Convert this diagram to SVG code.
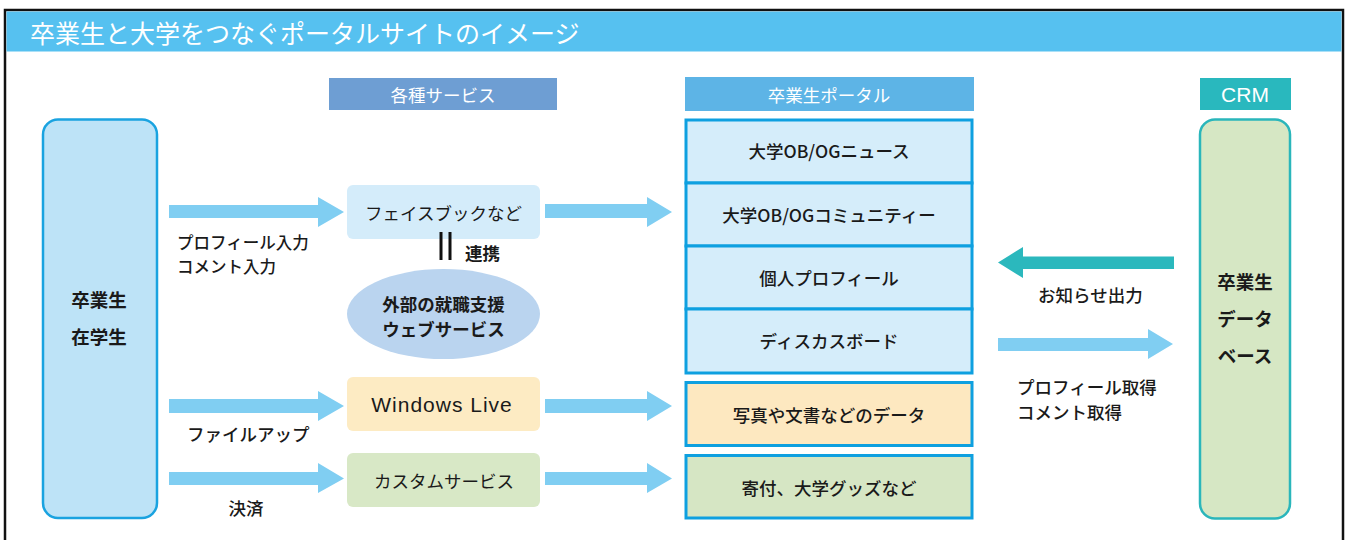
<svg xmlns="http://www.w3.org/2000/svg" width="1351" height="540" viewBox="0 0 1351 540">
<defs>
<style>
.t{font-family:"Noto Sans CJK JP","Noto Sans",sans-serif;font-size:17.5px;fill:#1a1a1a;font-weight:500}
.c{text-anchor:middle;dominant-baseline:central}
.m{dominant-baseline:central}
.s{font-size:16.5px}
.w{fill:#ffffff;font-weight:400}
.b{font-weight:700}
.lat{font-family:"Liberation Sans","Noto Sans CJK JP",sans-serif}
.arr{fill:#80CEF2}
.cell{fill:#D5EDFA;stroke:#0EA0E0;stroke-width:3}
</style>
</defs>
<rect x="0" y="0" width="1351" height="540" fill="#ffffff"/>
<rect x="5" y="10" width="1338" height="560" fill="none" stroke="#111" stroke-width="2.5"/>
<g id="title">
<rect x="6.5" y="11.5" width="1335" height="40" fill="#56C1F0"/>
<text class="t w m" x="30" y="32" style="font-size:25px">卒業生と大学をつなぐポータルサイトのイメージ</text>
</g>
<g id="hdr-services">
<rect x="329" y="78" width="228" height="32" fill="#6E9ED3"/>
<text class="t c w" x="443" y="94">各種サービス</text>
</g>
<g id="hdr-portal">
<rect x="685" y="77" width="289" height="34" fill="#5DB4E6"/>
<text class="t c w" x="829" y="94">卒業生ポータル</text>
</g>
<g id="hdr-crm">
<rect x="1200" y="78" width="91" height="32" fill="#29B8BE"/>
<text class="t c w lat" x="1245" y="94" style="font-size:21px">CRM</text>
</g>
<g id="students">
<rect x="43" y="119.5" width="114" height="398.5" rx="15" fill="#BDE3F7" stroke="#1AA3E0" stroke-width="2.5"/>
<text class="t c b" x="99" y="299" style="font-size:18.5px">卒業生</text>
<text class="t c b" x="99" y="336" style="font-size:18.5px">在学生</text>
</g>
<g id="facebook">
<rect x="347" y="185" width="193" height="54" rx="6" fill="#D4ECFA"/>
<text class="t c" x="443.5" y="212" style="font-weight:400">フェイスブックなど</text>
</g>
<g id="external">
<ellipse cx="443.5" cy="314" rx="96.5" ry="45" fill="#BAD4EF"/>
<text class="t c b" x="443.5" y="303" style="font-size:17.5px">外部の就職支援</text>
<text class="t c b" x="443.5" y="328.5" style="font-size:17.5px">ウェブサービス</text>
</g>
<g id="windowslive">
<rect x="347" y="377" width="193" height="54" rx="6" fill="#FDEBC3"/>
<text class="t c lat" x="442" y="404" style="font-size:21px;font-weight:400;letter-spacing:1px">Windows Live</text>
</g>
<g id="custom">
<rect x="347" y="453" width="193" height="54" rx="6" fill="#D8E8C6"/>
<text class="t c" x="444" y="480" style="font-weight:400">カスタムサービス</text>
</g>
<g id="portal">
<rect class="cell" x="686" y="120" width="286" height="63"/>
<rect class="cell" x="686" y="183" width="286" height="63"/>
<rect class="cell" x="686" y="246" width="286" height="63"/>
<rect class="cell" x="686" y="309" width="286" height="64"/>
<text class="t c" x="829" y="150">大学OB/OGニュース</text>
<text class="t c" x="829" y="214">大学OB/OGコミュニティー</text>
<text class="t c" x="829" y="277">個人プロフィール</text>
<text class="t c" x="829" y="340">ディスカスボード</text>
</g>
<g id="data">
<rect x="686" y="382.5" width="286" height="63" fill="#FDE8C0" stroke="#0EA0E0" stroke-width="3"/>
<text class="t c" x="829" y="414">写真や文書などのデータ</text>
</g>
<g id="goods">
<rect x="686" y="455.5" width="286" height="62.5" fill="#D6E6C4" stroke="#0EA0E0" stroke-width="3"/>
<text class="t c" x="829" y="487">寄付、大学グッズなど</text>
</g>
<g id="crm">
<rect x="1200" y="119.5" width="90" height="399" rx="15" fill="#D6E7C4" stroke="#2AB6BB" stroke-width="2.5"/>
<text class="t c b" x="1245" y="281" style="font-size:18.5px">卒業生</text>
<text class="t c b" x="1245" y="318" style="font-size:18.5px">データ</text>
<text class="t c b" x="1245" y="355" style="font-size:18.5px">ベース</text>
</g>
<g id="connectors">
<polygon class="arr" points="169,205 318,205 318,197 344,212 318,227 318,218 169,218"/>
<polygon class="arr" points="169,399 318,399 318,391 344,406 318,421 318,413 169,413"/>
<polygon class="arr" points="169,472 318,472 318,463 344,478.5 318,493 318,485 169,485"/>
<polygon class="arr" points="545,204 647,204 647,197 672,212 647,227 647,218 545,218"/>
<polygon class="arr" points="545,399 647,399 647,391 672,406 647,421 647,413 545,413"/>
<polygon class="arr" points="545,472 647,472 647,463 672,478.5 647,493 647,485 545,485"/>
<polygon fill="#2BB8BD" points="1174,256.5 1023,256.5 1023,247 998,262.5 1023,278 1023,269 1174,269"/>
<polygon class="arr" points="998,338 1148,338 1148,329 1173,344 1148,359 1148,351 998,351"/>
<rect x="439.5" y="232" width="3" height="28" fill="#111"/>
<rect x="448.5" y="232" width="3" height="28" fill="#111"/>
<text class="t b m" x="465" y="252">連携</text>
<text class="t m s" x="177" y="242">プロフィール入力</text>
<text class="t m s" x="177" y="266">コメント入力</text>
<text class="t m" x="187" y="433">ファイルアップ</text>
<text class="t c" x="246" y="507">決済</text>
<text class="t m" x="1038" y="294">お知らせ出力</text>
<text class="t m" x="1017" y="386">プロフィール取得</text>
<text class="t m" x="1017" y="411.5">コメント取得</text>
</g>
</svg>
